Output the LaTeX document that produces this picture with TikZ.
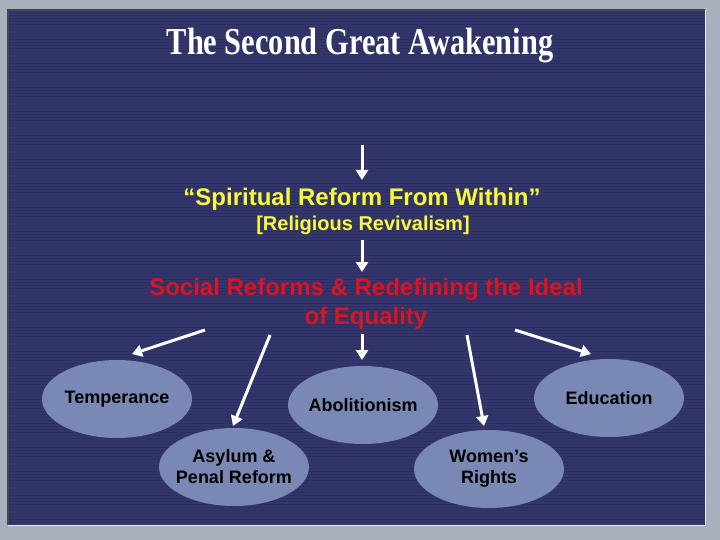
\documentclass[tikz,border=0pt]{standalone}
\usepackage{fontspec}
\setmainfont{Liberation Sans}
\newfontfamily\titlefont[FakeStretch=0.8]{Liberation Serif}
\usetikzlibrary{arrows.meta,shapes.geometric}

\definecolor{slidebg}{RGB}{50,54,108}
\definecolor{ovalfill}{RGB}{122,136,182}
\definecolor{frameg}{RGB}{168,176,190}
\definecolor{revyellow}{RGB}{250,250,60}
\definecolor{reformred}{RGB}{222,18,32}

% text line that does not widen its oval
\newcommand{\ovalline}[1]{\makebox[0pt]{#1}}

\begin{document}
\begin{tikzpicture}[x=1pt,y=-1pt]

% --- Define Styles ---
\tikzset{
    flow/.style={-{Triangle[length=10pt,width=12pt]}, white, line width=3pt},
    oval/.style={ellipse, fill=ovalfill, minimum width=150pt, minimum height=78pt,
        inner sep=0pt, align=center, font=\bfseries\fontsize{18}{21}\selectfont},
    stripe/.style={slidebg!88!black, line width=0.6pt}
}

\useasboundingbox (0,0) rectangle (720,540);

% ================= FRAME =================
\fill[frameg] (0,0) rectangle (720,540);
\fill[slidebg] (8,10) rectangle (705,525);
\foreach \y in {12,15,...,523}
    \draw[stripe] (8,\y) -- (705,\y);
\draw[gray!55!black, line width=1.2pt] (8,525) -- (8,10) -- (705,10);
\draw[white!85!gray, line width=1pt] (8,525) -- (705,525) -- (705,10);

% ================= HEADINGS =================
\node[white] (title) at (360,46) {\titlefont\bfseries\fontsize{38}{44}\selectfont The Second Great Awakening};
\node[revyellow, font=\bfseries\fontsize{24}{28}\selectfont] (spirit) at (362,199) {“Spiritual Reform From Within”};
\node[revyellow, font=\bfseries\fontsize{20}{24}\selectfont] (revival) at (363,225) {[Religious Revivalism]};
\node[reformred, align=center, font=\bfseries\fontsize{24}{29}\selectfont] (social) at (366,304)
    {Social Reforms \& Redefining the Ideal\\of Equality};

% ================= REFORMS =================
\node[oval] (temp) at (117,399) {\ovalline{Temperance}};
\node[oval] (asylum) at (234,467) {\ovalline{Asylum \&}\\\ovalline{Penal Reform}};
\node[oval] (abol) at (363,405) {\ovalline{Abolitionism}};
\node[oval] (women) at (489,469) {\ovalline{Women’s}\\\ovalline{Rights}};
\node[oval] (edu) at (609,398) {\ovalline{Education}};

% --- arrow ends ---
\coordinate (top1) at (362,145);
\coordinate (tip1) at (362,180);
\coordinate (top2) at (362,240);
\coordinate (tip2) at (362,272);
\coordinate (s1) at (205,330);
\coordinate (t1) at (132,354);
\coordinate (s2) at (270,335);
\coordinate (t2) at (233,426);
\coordinate (s3) at (362,334);
\coordinate (t3) at (362,360);
\coordinate (s4) at (467,335);
\coordinate (t4) at (484,426);
\coordinate (s5) at (515,330);
\coordinate (t5) at (591,354);

\draw[flow] (top1) -- (tip1);
\draw[flow] (top2) -- (tip2);
\foreach \i in {1,...,5}
    \draw[flow] (s\i) -- (t\i);

\end{tikzpicture}
\end{document}
